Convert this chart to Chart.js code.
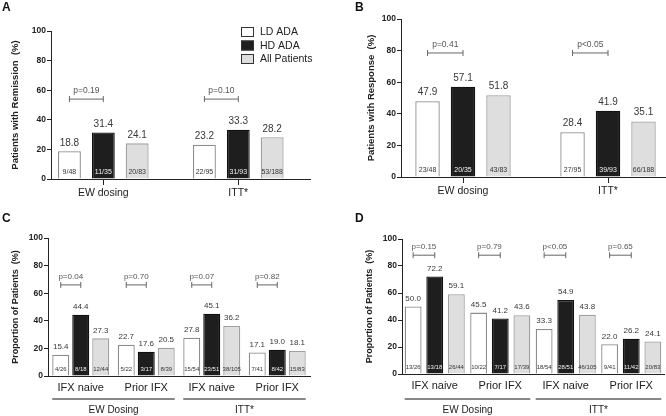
<!DOCTYPE html>
<html>
<head>
<meta charset="utf-8">
<script src="https://cdn.jsdelivr.net/npm/chart.js@4.4.0/dist/chart.umd.min.js"></script>
<style>
  body { margin: 0; background: #fff; width: 666px; height: 416px; position: relative; overflow: hidden; }
  canvas { position: absolute; }
  .tag { position: absolute; font: bold 12px "Liberation Sans", Arial, sans-serif; color: #111; }
</style>
</head>
<body>
<canvas id="chartA" width="333" height="208" style="left:0;top:0"></canvas>
<canvas id="chartB" width="333" height="208" style="left:333px;top:0"></canvas>
<canvas id="chartC" width="333" height="208" style="left:0;top:208px"></canvas>
<canvas id="chartD" width="333" height="208" style="left:333px;top:208px"></canvas>
<div class="tag" style="left:2px;top:0px">A</div>
<div class="tag" style="left:355px;top:0px">B</div>
<div class="tag" style="left:2px;top:211px">C</div>
<div class="tag" style="left:355px;top:211px">D</div>
<script>
const seriesNames = ['LD ADA', 'HD ADA', 'All Patients'];
const yTicks = [0, 20, 40, 60, 80, 100];

// A - remission
const remissionGroups = ['EW dosing', 'ITT*'];
const remissionLD = [18.8, 23.2];
const remissionHD = [31.4, 33.3];
const remissionAll = [24.1, 28.2];
const remissionLDn = ['9/48', '22/95'];
const remissionHDn = ['11/35', '31/93'];
const remissionAlln = ['20/83', '53/188'];
const remissionP = ['p=0.19', 'p=0.10'];

// B - response
const responseGroups = ['EW dosing', 'ITT*'];
const responseLD = [47.9, 28.4];
const responseHD = [57.1, 41.9];
const responseAll = [51.8, 35.1];
const responseLDn = ['23/48', '27/95'];
const responseHDn = ['20/35', '39/93'];
const responseAlln = ['43/83', '66/188'];
const responseP = ['p=0.41', 'p<0.05'];

// C / D - by prior IFX
const ifxGroups = ['IFX naive', 'Prior IFX', 'IFX naive', 'Prior IFX'];
const populations = ['EW Dosing', 'ITT*'];

const ifxRemLD = [15.4, 22.7, 27.8, 17.1];
const ifxRemHD = [44.4, 17.6, 45.1, 19.0];
const ifxRemAll = [27.3, 20.5, 36.2, 18.1];
const ifxRemLDn = ['4/26', '5/22', '15/54', '7/41'];
const ifxRemHDn = ['8/18', '3/17', '23/51', '8/42'];
const ifxRemAlln = ['12/44', '8/39', '38/105', '15/83'];
const ifxRemP = ['p=0.04', 'p=0.70', 'p=0.07', 'p=0.82'];

const ifxRespLD = [50.0, 45.5, 33.3, 22.0];
const ifxRespHD = [72.2, 41.2, 54.9, 26.2];
const ifxRespAll = [59.1, 43.6, 43.8, 24.1];
const ifxRespLDn = ['13/26', '10/22', '18/54', '9/41'];
const ifxRespHDn = ['13/18', '7/17', '28/51', '11/42'];
const ifxRespAlln = ['26/44', '17/39', '46/105', '20/83'];
const ifxRespP = ['p=0.15', 'p=0.79', 'p<0.05', 'p=0.65'];

const FONT = '"Liberation Sans", Arial, sans-serif';
const fills = ['#ffffff', '#1e1e1e', '#dedede'];
const edges = ['#8c8c8c', '#111111', '#a0a0a0'];
const fracColors = ['#333', '#f2f2f2', '#333'];

// value labels, fractions, p-value brackets, group lines, legend
const annot = {
  id: 'annot',
  afterDatasetsDraw(chart, args, o) {
    const ctx = chart.ctx;
    const yScale = chart.scales.y;
    const area = chart.chartArea;
    const metas = [0, 1, 2].map(i => chart.getDatasetMeta(i));
    ctx.save();
    ctx.textAlign = 'center';
    ctx.textBaseline = 'middle';

    chart.data.datasets.forEach((ds, di) => {
      metas[di].data.forEach((bar, i) => {
        ctx.fillStyle = '#383838';
        ctx.font = o.valueFont + 'px ' + FONT;
        ctx.fillText(ds.values[i].toFixed(1), bar.x, bar.y - o.valueGap);
        ctx.fillStyle = fracColors[di];
        ctx.font = o.fracFont + 'px ' + FONT;
        ctx.fillText(ds.fractions[i], bar.x, area.bottom - 7);
      });
    });

    // brackets LD vs HD
    const by = yScale.getPixelForValue(o.bracketAt);
    ctx.strokeStyle = '#666';
    ctx.lineWidth = 1;
    o.pvals.forEach((p, i) => {
      const x1 = metas[0].data[i].x, x2 = metas[1].data[i].x;
      ctx.beginPath();
      ctx.moveTo(x1, by); ctx.lineTo(x2, by);
      ctx.moveTo(x1, by - 3); ctx.lineTo(x1, by + 3);
      ctx.moveTo(x2, by - 3); ctx.lineTo(x2, by + 3);
      ctx.stroke();
      ctx.fillStyle = '#555';
      ctx.font = o.pFont + 'px ' + FONT;
      ctx.fillText(p, (x1 + x2) / 2, by - 8);
    });

    if (o.populations) {
      const ly = area.bottom + o.popGap;
      o.populations.forEach((name, g) => {
        const a = metas[0].data[g * 2], b = metas[2].data[g * 2 + 1];
        const xa = a.x - a.width / 2, xb = b.x + b.width / 2;
        ctx.strokeStyle = '#111';
        ctx.lineWidth = 1;
        ctx.beginPath();
        ctx.moveTo(xa, ly); ctx.lineTo(xb, ly);
        ctx.stroke();
        ctx.fillStyle = '#222';
        ctx.font = '10px ' + FONT;
        ctx.fillText(name, (xa + xb) / 2, ly + 11);
      });
    }

    if (o.legend) {
      ctx.textAlign = 'left';
      chart.data.datasets.forEach((ds, di) => {
        const y = 27 + di * 13.5;
        ctx.fillStyle = ds.backgroundColor;
        ctx.fillRect(241, y, 13, 10);
        ctx.strokeStyle = '#333';
        ctx.lineWidth = 1;
        ctx.strokeRect(241.5, y + 0.5, 12, 9);
        ctx.fillStyle = '#222';
        ctx.font = '10.5px ' + FONT;
        ctx.fillText(ds.label, 260, y + 5.5);
      });
    }
    ctx.restore();
  }
};

function makePanel(id, p) {
  const linear = !!p.xRange;
  const datasets = p.series.map((vals, di) => ({
    label: seriesNames[di],
    data: linear ? vals.map((v, i) => ({ x: i + 1, y: v })) : vals,
    values: vals,
    fractions: p.fracs[di],
    backgroundColor: fills[di],
    borderColor: edges[di],
    borderWidth: 1.3,
    categoryPercentage: p.catPct,
    barPercentage: p.barPct
  }));

  const xScale = linear ? {
    type: 'linear',
    min: p.xRange[0],
    max: p.xRange[1],
    offset: false,
    bounds: 'data',
    afterBuildTicks: s => { s.ticks = p.groups.map((g, i) => ({ value: i + 1 })); },
    afterFit: s => { s.height = 208 - p.area.bottom; },
    grid: { drawOnChartArea: false, drawTicks: true, tickLength: 6, color: '#222', offset: false, lineWidth: 1 },
    border: { color: '#222', width: 1 },
    ticks: {
      autoSkip: false, maxRotation: 0, padding: 2, color: '#222',
      font: { family: FONT, size: p.xFont },
      callback: v => p.groups[Math.round(v) - 1]
    }
  } : {
    type: 'category',
    afterFit: s => { s.height = 208 - p.area.bottom; },
    grid: { display: false, drawTicks: false },
    border: { color: '#222', width: 1 },
    ticks: { autoSkip: false, maxRotation: 0, padding: 5, color: '#222', font: { family: FONT, size: p.xFont } }
  };

  new Chart(document.getElementById(id), {
    type: 'bar',
    data: { labels: linear ? undefined : p.groups, datasets },
    options: {
      responsive: false,
      animation: false,
      devicePixelRatio: 1,
      layout: { padding: { left: 0, top: p.area.top, right: 333 - p.area.right, bottom: 0 } },
      scales: {
        x: xScale,
        y: {
          min: 0, max: 100,
          afterBuildTicks: s => { s.ticks = yTicks.map(v => ({ value: v })); },
          afterFit: s => { s.width = p.area.left; },
          grid: { drawOnChartArea: false, drawTicks: true, tickLength: 4, color: '#222', lineWidth: 1 },
          border: { color: '#222', width: 1 },
          ticks: { padding: 1, color: '#222', font: { family: FONT, size: 8.5, weight: 'bold' } },
          title: {
            display: true, text: p.yTitle, color: '#222',
            padding: { top: p.titlePad, bottom: 0 },
            font: { family: FONT, size: p.titleFont, weight: 'bold' }
          }
        }
      },
      plugins: {
        legend: { display: false },
        tooltip: { enabled: false },
        annot: {
          valueFont: p.valueFont, fracFont: p.fracFont, pFont: p.pFont, valueGap: p.valueGap,
          bracketAt: p.bracketAt, pvals: p.pvals, populations: p.populations,
          popGap: p.popGap, legend: p.legend
        }
      }
    },
    plugins: [annot]
  });
}

makePanel('chartA', {
  groups: remissionGroups,
  series: [remissionLD, remissionHD, remissionAll],
  fracs: [remissionLDn, remissionHDn, remissionAlln],
  pvals: remissionP, bracketAt: 54,
  yTitle: 'Patients with Remission  (%)', titleFont: 9.5, titlePad: 10,
  area: { left: 51, top: 31, right: 310, bottom: 179 },
  xRange: [0.6125, 2.5313], catPct: 0.753, barPct: 0.676,
  xFont: 10.5, valueFont: 10, fracFont: 7, pFont: 8.5, valueGap: 8, legend: true
});

makePanel('chartB', {
  groups: responseGroups,
  series: [responseLD, responseHD, responseAll],
  fracs: [responseLDn, responseHDn, responseAlln],
  pvals: responseP, bracketAt: 78.5,
  yTitle: 'Patients with Response  (%)', titleFont: 9.5, titlePad: 33,
  area: { left: 68, top: 19, right: 332, bottom: 177 },
  xRange: [0.5724, 2.393], catPct: 0.734, barPct: 0.69,
  xFont: 10.5, valueFont: 10, fracFont: 7, pFont: 8.5, valueGap: 9
});

makePanel('chartC', {
  groups: ifxGroups,
  series: [ifxRemLD, ifxRemHD, ifxRemAll],
  fracs: [ifxRemLDn, ifxRemHDn, ifxRemAlln],
  pvals: ifxRemP, bracketAt: 66,
  yTitle: 'Proportion of Patients  (%)', titleFont: 9, titlePad: 10,
  area: { left: 48, top: 30, right: 310, bottom: 168 },
  catPct: 0.916, barPct: 0.85, populations: populations, popGap: 23,
  xFont: 11, valueFont: 8, fracFont: 6, pFont: 8, valueGap: 8
});

makePanel('chartD', {
  groups: ifxGroups,
  series: [ifxRespLD, ifxRespHD, ifxRespAll],
  fracs: [ifxRespLDn, ifxRespHDn, ifxRespAlln],
  pvals: ifxRespP, bracketAt: 88,
  yTitle: 'Proportion of Patients  (%)', titleFont: 9, titlePad: 31,
  area: { left: 69, top: 31, right: 331, bottom: 166 },
  catPct: 0.99, barPct: 0.78, populations: populations, popGap: 25,
  xFont: 11, valueFont: 8, fracFont: 6, pFont: 8, valueGap: 8
});
</script>
</body>
</html>
